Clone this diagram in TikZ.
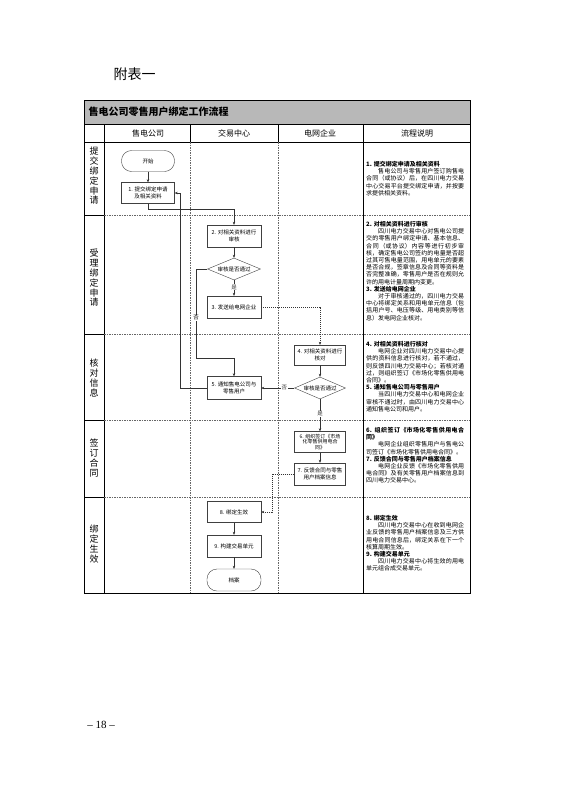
\documentclass[tikz,border=0pt]{standalone}
\usepackage{fontspec}
\usetikzlibrary{arrows.meta,shapes.geometric}
\setmainfont{Noto Sans CJK SC}
\newfontfamily\numfont{Liberation Serif}
\XeTeXlinebreaklocale "zh"
\XeTeXlinebreakskip = 0pt plus 1pt

\begin{document}
\begin{tikzpicture}[x=1pt, y=-1pt,
    stepbox/.style={draw=black!75, fill=white, thin, minimum width=54pt, minimum height=22pt, inner sep=1pt, align=center, font=\fontsize{5.5}{6.6}\selectfont},
    endbox/.style={stepbox, rounded corners=10pt},
    checkbox/.style={draw=black!75, fill=white, thin, diamond, aspect=2.4, minimum width=53pt, minimum height=22pt, inner sep=0pt, font=\fontsize{5.5}{6.6}\selectfont},
    flow/.style={thin, black!80, -{Stealth[length=3pt, width=2.5pt]}},
    tag/.style={fill=white, inner sep=.5pt, font=\fontsize{5.5}{6}\selectfont},
    note/.style={anchor=north west, text width=98pt, inner sep=0pt, align=justify, font=\fontsize{6}{7.2}\selectfont},
    lane/.style={black!60, thin, dash pattern=on 1.5pt off 1pt},
    stage/.style={align=center, font=\fontsize{9}{9.8}\selectfont}]

    \useasboundingbox (0,0) rectangle (560,793);

    \node [anchor=west, font=\fontsize{14}{14}\selectfont] (annex) at (110,74) {附表一};

    % table frame
    \fill [black!28] (84,100) rectangle (470,124);
    \node [anchor=west, font=\bfseries\fontsize{10}{10}\selectfont] (title) at (85,112) {售电公司零售用户绑定工作流程};
    \draw [thin] (84,100) rectangle (470,593);
    \draw [thin] (84,124) -- (470,124);
    \draw [thin] (84,142) -- (470,142);
    \draw [thin] (104,124) -- (104,593);
    \draw [thin] (363,124) -- (363,593);
    \foreach \x in {190,278} {
      \draw [thin] (\x,124) -- (\x,142);
      \draw [lane] (\x,142) -- (\x,593);
    }
    \foreach \y in {215,334,420,497} {
      \draw [thin] (84,\y) -- (104,\y);
      \draw [lane] (104,\y) -- (470,\y);
    }

    % header
    \node [font=\fontsize{8}{8}\selectfont] (hsale) at (148,133) {售电公司};
    \node [font=\fontsize{8}{8}\selectfont] (htrade) at (234,133) {交易中心};
    \node [font=\fontsize{8}{8}\selectfont] (hgrid) at (320,133) {电网企业};
    \node [font=\fontsize{8}{8}\selectfont] (hnote) at (417,133) {流程说明};

    % stages
    \node [stage] (s1) at (94,176) {提\\交\\绑\\定\\申\\请};
    \node [stage] (s2) at (94,278) {受\\理\\绑\\定\\申\\请};
    \node [stage] (s3) at (94,378) {核\\对\\信\\息};
    \node [stage] (s4) at (94,458) {签\\订\\合\\同};
    \node [stage] (s5) at (94,544) {绑\\定\\生\\效};

    % flow
    \node [endbox, minimum width=53pt, minimum height=21pt] (start) at (148,161) {开始};
    \node [stepbox, minimum width=53pt, minimum height=21pt] (n1) at (148,193) {1. 提交绑定申请\\及相关资料};
    \node [stepbox] (n2) at (234,236) {2. 对相关资料进行\\审核};
    \node [checkbox] (d1) at (234,269) {审核是否通过};
    \node [stepbox] (n3) at (234,307) {3. 发送给电网企业};
    \node [stepbox, minimum width=51pt, minimum height=20pt] (n4) at (320,355) {4. 对相关资料进行\\核对};
    \node [checkbox, minimum width=51pt] (d2) at (320,388) {审核是否通过};
    \node [stepbox, minimum height=23pt] (n5) at (234,388) {5. 通知售电公司与\\零售用户};
    \node [stepbox, minimum width=51pt, minimum height=21pt, font=\fontsize{5}{5.8}\selectfont] (n6) at (320,442) {6. 组织签订《市场\\化零售供用电合\\同》};
    \node [stepbox, minimum width=51pt] (n7) at (320,474) {7. 反馈合同与零售\\用户档案信息};
    \node [stepbox, minimum height=21pt] (n8) at (234,512) {8. 绑定生效};
    \node [stepbox] (n9) at (234,546) {9. 构建交易单元};
    \node [endbox] (end) at (234,580) {档案};

    \coordinate (k1) at (196,358);
    \coordinate (k2) at (272,474);
    \coordinate (k3) at (180,193);

    \draw [flow] (start) -- (n1);
    \draw [flow] (n1.south) -- ++(0,5) -| (n2.north);
    \draw [flow] (n2) -- (d1);
    \draw [flow] (d1) -- node [tag, pos=.45] {是} (n3);
    \draw [flow] (d1.west) -| (k1) -| (n5.north);
    \node [tag] (no1) at (196,318) {否};
    \draw [flow, dash pattern=on 1pt off 1pt] (n3.east) -| (n4.north);
    \draw [flow] (n4) -- (d2);
    \draw [flow] (d2.west) -- node [tag, pos=.3] {否} (n5.east);
    \draw [flow] (d2) -- node [tag, pos=.45] {是} (n6);
    \draw [flow] (n6) -- (n7);
    \draw [flow, dash pattern=on 1pt off 1pt] (n7.west) -- (k2) |- (n8.east);
    \draw [flow] (n5.west) -| (k3) -- (n1.east);
    \draw [flow] (n8) -- (n9);
    \draw [flow] (n9) -- (end);

    % notes
    \node [note] (t1) at (366,161) {\textbf{1. 提交绑定申请及相关资料}\\
      \hspace*{2em}售电公司与零售用户签订购售电合同（或协议）后，在四川电力交易中心交易平台提交绑定申请，并按要求提供相关资料。};
    \node [note] (t2) at (366,221) {\textbf{2. 对相关资料进行审核}\\
      \hspace*{2em}四川电力交易中心对售电公司提交的零售用户绑定申请、基本信息、合同（或协议）内容等进行初步审核，确定售电公司签约的电量是否超过其可售电量范围，用电单元的要素是否合规，签章信息及合同等资料是否完整准确，零售用户是否在规则允许的用电计量周期内变更。\\
      \textbf{3. 发送给电网企业}\\
      \hspace*{2em}对于审核通过的，四川电力交易中心将绑定关系和用电单元信息（包括用户号、电压等级、用电类别等信息）发电网企业核对。};
    \node [note] (t3) at (366,341) {\textbf{4. 对相关资料进行核对}\\
      \hspace*{2em}电网企业对四川电力交易中心提供的资料信息进行核对，若不通过，则反馈四川电力交易中心；若核对通过，则组织签订《市场化零售供用电合同》。\\
      \textbf{5. 通知售电公司与零售用户}\\
      \hspace*{2em}当四川电力交易中心和电网企业审核不通过时，由四川电力交易中心通知售电公司和用户。};
    \node [note] (t4) at (366,427) {\textbf{6. 组织签订《市场化零售供用电合同》}\\
      \hspace*{2em}电网企业组织零售用户与售电公司签订《市场化零售供用电合同》。\\
      \textbf{7. 反馈合同与零售用户档案信息}\\
      \hspace*{2em}电网企业反馈《市场化零售供用电合同》及有关零售用户档案信息到四川电力交易中心。};
    \node [note] (t5) at (366,515) {\textbf{8. 绑定生效}\\
      \hspace*{2em}四川电力交易中心在收到电网企业反馈的零售用户档案信息及三方供用电合同信息后，绑定关系在下一个核算周期生效。\\
      \textbf{9. 构建交易单元}\\
      \hspace*{2em}四川电力交易中心将生效的用电单元组合成交易单元。};

    \node [font=\numfont\fontsize{11}{11}\selectfont] (page) at (101,725) {– 18 –};
\end{tikzpicture}
\end{document}
